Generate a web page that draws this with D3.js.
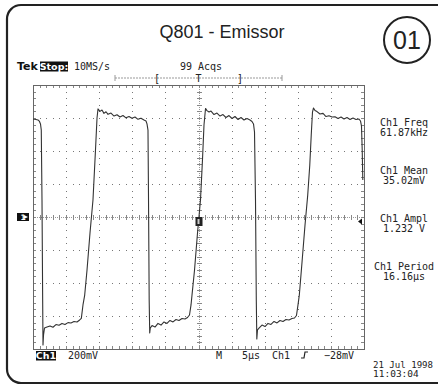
<!DOCTYPE html>
<html>
<head>
<meta charset="utf-8">
<script src="https://cdn.jsdelivr.net/npm/d3@7"></script>
<style>
  html, body { margin: 0; padding: 0; background: #fff; }
  svg { display: block; }
  .mono { font-family: "DejaVu Sans Mono", monospace; fill: #222; }
</style>
</head>
<body>
<svg id="scope" width="438" height="386"></svg>
<script>
// Channel 1 record: time (µs, relative to trigger) and voltage (mV)
const traceTimeUs = [
  -25.00, -24.55, -24.25, -24.02, -23.87, -23.75, -23.64, -23.54, -23.49, -23.41, -23.26,
  -22.89, -22.43, -21.98, -21.53, -21.07, -20.62, -20.17, -19.71, -19.26, -18.81, -18.35, -17.95, -17.70,
  -17.45, -17.19, -16.84, -16.39, -15.94, -15.56, -15.33, -15.18,
  -14.88, -14.58, -14.28, -13.97, -13.67, -13.22, -12.76, -12.31, -11.86, -11.41, -10.95, -10.50, -10.05, -9.59, -9.14, -8.69, -8.23, -7.93, -7.78, -7.63,
  -7.55, -7.45, -7.37, -7.28,
  -7.02, -6.57, -6.12, -5.66, -5.21, -4.76, -4.31, -3.85, -3.40, -2.95, -2.49, -2.04, -1.66, -1.36,
  -1.13, -0.98, -0.60, -0.15, 0.30, 0.60, 0.83, 1.06,
  1.28, 1.59, 1.89, 2.34, 2.79, 3.25, 3.70, 4.15, 4.61, 5.06, 5.51, 5.97, 6.42, 6.87, 7.33, 7.78, 8.08, 8.31, 8.46,
  8.61, 8.73, 8.81, 8.91, 9.14,
  9.59, 10.05, 10.50, 10.95, 11.41, 11.86, 12.31, 12.76, 13.22, 13.67, 14.12, 14.50, 14.80,
  15.03, 15.23, 15.64, 16.09, 16.50, 16.81, 17.03, 17.22, 17.37,
  17.60, 17.90, 18.35, 18.81, 19.26, 19.71, 20.17, 20.62, 21.07, 21.53, 21.98, 22.43, 22.89, 23.34, 23.79, 24.24, 24.47, 24.62, 24.73, 24.82
];
const traceMilliVolts = [
  594, 591, 588, 579, 564, 527, 103, -503, -776, -715, -673,
  -667, -660, -668, -652, -656, -645, -652, -640, -642, -633, -636, -624, -614,
  -533, -473, -321, -97, 103, 406, 600, 655,
  640, 648, 628, 638, 622, 630, 612, 620, 606, 615, 601, 609, 598, 606, 592, 599, 588, 582, 564, 527,
  103, -503, -703, -673,
  -658, -667, -645, -655, -636, -645, -627, -636, -621, -627, -615, -618, -609, -594,
  -533, -473, -321, -97, 103, 345, 558, 658,
  645, 636, 642, 621, 630, 612, 621, 603, 615, 597, 609, 591, 603, 588, 597, 588, 579, 564, 515,
  103, -503, -739, -685, -673,
  -655, -664, -645, -651, -633, -642, -627, -633, -621, -624, -615, -612, -597,
  -533, -473, -273, -48, 133, 315, 497, 636, 661,
  645, 639, 624, 628, 609, 614, 606, 608, 597, 606, 594, 603, 591, 600, 591, 594, 582, 552, 406, 224
];

// Readouts
const measureNames  = ["Ch1 Freq", "Ch1 Mean", "Ch1 Ampl", "Ch1 Period"];
const measureValues = ["61.87kHz", "35.02mV", "1.232 V", "16.16µs"];
const titleText = "Q801 - Emissor";
const badgeText = "01";
const sampleRate = "10MS/s";
const acqCount = "99 Acqs";
const voltsPerDiv = "200mV";
const timePerDiv = "5µs";
const triggerSource = "Ch1";
const triggerLevel = "\u221228mV";
const dateText = "21 Jul 1998";
const timeText = "11:03:04";

const svg = d3.select("#scope");

// Outer rounded frame
svg.append("rect")
  .attr("x", 7).attr("y", 5).attr("width", 460).attr("height", 378)
  .attr("rx", 14).attr("fill", "none").attr("stroke", "#222").attr("stroke-width", 2.2);

svg.append("text")
  .attr("x", 222).attr("y", 38)
  .attr("text-anchor", "middle")
  .style("font-family", "'Liberation Sans', Arial, sans-serif")
  .style("font-size", "18px").attr("fill", "#222")
  .text(titleText);

svg.append("circle").attr("cx", 407).attr("cy", 40).attr("r", 23)
  .attr("fill", "none").attr("stroke", "#222").attr("stroke-width", 2);
svg.append("text")
  .attr("x", 407).attr("y", 49).attr("text-anchor", "middle")
  .style("font-family", "'Liberation Sans', Arial, sans-serif")
  .style("font-size", "25px").attr("fill", "#222")
  .text(badgeText);

// Scales: 10 horizontal divisions of 5 µs, 8 vertical of 200 mV
const x = d3.scaleLinear().domain([-25, 25]).range([33, 364]);
const y = d3.scaleLinear().domain([-800, 800]).range([349, 85]);

const grid = svg.append("g").attr("stroke", "#888").attr("shape-rendering", "crispEdges");
const majorT = d3.range(-25, 25.01, 5);
const majorV = d3.range(-800, 800.01, 200);
const minorT = d3.range(-25, 25.01, 1);
const minorV = d3.range(-800, 800.01, 40);

// Dotted interior graticule
majorT.filter(t => t !== 0 && Math.abs(t) !== 25).forEach(t => {
  minorV.forEach(v => {
    grid.append("rect").attr("x", Math.round(x(t))).attr("y", Math.round(y(v)))
      .attr("width", 1).attr("height", 1).attr("fill", "#777").attr("stroke", "none");
  });
});
majorV.filter(v => v !== 0 && Math.abs(v) !== 800).forEach(v => {
  minorT.forEach(t => {
    grid.append("rect").attr("x", Math.round(x(t))).attr("y", Math.round(y(v)))
      .attr("width", 1).attr("height", 1).attr("fill", "#777").attr("stroke", "none");
  });
});

// Center crosshair with minor ticks
grid.append("line").attr("x1", x(-25)).attr("x2", x(25)).attr("y1", Math.round(y(0))).attr("y2", Math.round(y(0)))
  .attr("stroke", "#999").attr("stroke-dasharray", "1,1");
grid.append("line").attr("y1", y(800)).attr("y2", y(-800)).attr("x1", Math.round(x(0))).attr("x2", Math.round(x(0)))
  .attr("stroke", "#999").attr("stroke-dasharray", "1,1");
minorT.forEach(t => {
  grid.append("line").attr("x1", Math.round(x(t))).attr("x2", Math.round(x(t)))
    .attr("y1", Math.round(y(0)) - 2).attr("y2", Math.round(y(0)) + 3).attr("stroke", "#888");
  grid.append("line").attr("x1", Math.round(x(t))).attr("x2", Math.round(x(t)))
    .attr("y1", y(800)).attr("y2", y(800) + 3).attr("stroke", "#888");
  grid.append("line").attr("x1", Math.round(x(t))).attr("x2", Math.round(x(t)))
    .attr("y1", y(-800)).attr("y2", y(-800) - 3).attr("stroke", "#888");
});
minorV.forEach(v => {
  grid.append("line").attr("y1", Math.round(y(v))).attr("y2", Math.round(y(v)))
    .attr("x1", Math.round(x(0)) - 2).attr("x2", Math.round(x(0)) + 3).attr("stroke", "#888");
  grid.append("line").attr("y1", Math.round(y(v))).attr("y2", Math.round(y(v)))
    .attr("x1", x(-25)).attr("x2", x(-25) + 3).attr("stroke", "#888");
  grid.append("line").attr("y1", Math.round(y(v))).attr("y2", Math.round(y(v)))
    .attr("x1", x(25)).attr("x2", x(25) - 3).attr("stroke", "#888");
});
grid.append("rect").attr("x", x(-25)).attr("y", y(800))
  .attr("width", x(25) - x(-25)).attr("height", y(-800) - y(800))
  .attr("fill", "none").attr("stroke", "#666");

// Waveform
const pts = traceTimeUs.map((t, i) => [t, traceMilliVolts[i]]);
svg.append("path")
  .datum(pts)
  .attr("d", d3.line().x(d => x(d[0])).y(d => y(d[1])))
  .attr("fill", "none").attr("stroke", "#333").attr("stroke-width", 1.1)
  .attr("stroke-linejoin", "round");

// Header: status line and record bar
svg.append("text").attr("x", 17).attr("y", 70)
  .style("font-family", "'DejaVu Sans', sans-serif").style("font-weight", "bold")
  .style("font-size", "11px").attr("fill", "#111").text("Tek");
svg.append("rect").attr("x", 40).attr("y", 61.5).attr("width", 28).attr("height", 10).attr("fill", "#111");
svg.append("text").attr("x", 54).attr("y", 70).attr("text-anchor", "middle")
  .style("font-family", "'DejaVu Sans', sans-serif").style("font-weight", "bold")
  .style("font-size", "9.5px").attr("fill", "#fff").text("Stop:");
svg.append("text").attr("class", "mono").attr("x", 74).attr("y", 70)
  .style("font-size", "10px").text(sampleRate);
svg.append("text").attr("class", "mono").attr("x", 180).attr("y", 70)
  .style("font-size", "10px").text(acqCount);

const recY = 78;
svg.append("line").attr("x1", 115).attr("x2", 282).attr("y1", recY).attr("y2", recY)
  .attr("stroke", "#999").attr("stroke-dasharray", "2,1");
[115, 282].forEach(px => svg.append("line").attr("x1", px).attr("x2", px)
  .attr("y1", recY - 3).attr("y2", recY + 3).attr("stroke", "#999"));
svg.append("text").attr("class", "mono").attr("x", 157).attr("y", 82).attr("text-anchor", "middle")
  .style("font-size", "10px").text("[");
svg.append("text").attr("class", "mono").attr("x", x(0)).attr("y", 82).attr("text-anchor", "middle")
  .style("font-size", "10px").text("T");
svg.append("text").attr("class", "mono").attr("x", 240).attr("y", 82).attr("text-anchor", "middle")
  .style("font-size", "10px").text("]");

// Ground reference marker
svg.append("rect").attr("x", 17).attr("y", Math.round(y(0)) - 4).attr("width", 12).attr("height", 8).attr("fill", "#111");
svg.append("text").attr("x", 20.5).attr("y", y(0) + 3).style("font-family", "'DejaVu Sans', sans-serif")
  .style("font-size", "7.5px").style("font-weight", "bold").attr("fill", "#fff").text("1");
svg.append("path").attr("d", `M24,${y(0) - 2} L28,${y(0)} L24,${y(0) + 2} Z`).attr("fill", "#fff");

// Trigger level marker
const tl = y(-28);
svg.append("path").attr("d", `M358,${tl} L362,${tl - 3} L362,${tl + 3} Z`).attr("fill", "#111");
// Trigger point marker
svg.append("rect").attr("x", x(0) - 3).attr("y", y(0)).attr("width", 7).attr("height", 9).attr("fill", "#222");
svg.append("rect").attr("x", x(0) - 1).attr("y", y(0) + 2).attr("width", 2).attr("height", 5).attr("fill", "#ccc");

// Measurement readouts
measureNames.forEach((name, i) => {
  const cy = 126 + i * 48;
  svg.append("text").attr("class", "mono").attr("x", 404).attr("y", cy).attr("text-anchor", "middle")
    .style("font-size", "10px").text(name);
  svg.append("text").attr("class", "mono").attr("x", 404).attr("y", cy + 10).attr("text-anchor", "middle")
    .style("font-size", "10px").text(measureValues[i]);
});

// Bottom status line
const by = 359;
svg.append("rect").attr("x", 36).attr("y", 351).attr("width", 20).attr("height", 9.5).attr("fill", "#111");
svg.append("text").attr("x", 46).attr("y", by).attr("text-anchor", "middle")
  .style("font-family", "'DejaVu Sans', sans-serif").style("font-weight", "bold")
  .style("font-size", "9.5px").attr("fill", "#fff").text("Ch1");
svg.append("text").attr("class", "mono").attr("x", 68).attr("y", by).style("font-size", "10px").text(voltsPerDiv);
svg.append("text").attr("class", "mono").attr("x", 216).attr("y", by).style("font-size", "10px").text("M");
svg.append("text").attr("class", "mono").attr("x", 242).attr("y", by).style("font-size", "10px").text(timePerDiv);
svg.append("text").attr("class", "mono").attr("x", 272).attr("y", by).style("font-size", "10px").text(triggerSource);
svg.append("path").attr("d", `M301,${by - 1} L304,${by - 1} L305,${by - 7} L308,${by - 7}`)
  .attr("fill", "none").attr("stroke", "#222").attr("stroke-width", 1.2);
svg.append("text").attr("class", "mono").attr("x", 324).attr("y", by).style("font-size", "10px").text(triggerLevel);
svg.append("text").attr("class", "mono").attr("x", 373).attr("y", 367.5).style("font-size", "9.5px")
  .attr("textLength", 60).attr("lengthAdjust", "spacingAndGlyphs").text(dateText);
svg.append("text").attr("class", "mono").attr("x", 373).attr("y", 377).style("font-size", "9.5px").text(timeText);
</script>
</body>
</html>
